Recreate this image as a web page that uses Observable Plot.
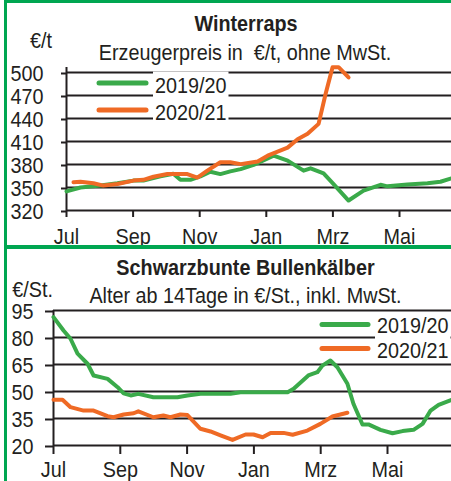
<!DOCTYPE html>
<html><head><meta charset="utf-8">
<script src="https://cdn.jsdelivr.net/npm/d3@7"></script>
<script src="https://cdn.jsdelivr.net/npm/@observablehq/plot@0.6"></script>
<style>
body{margin:0;background:#fff}
#root{position:relative;width:451px;height:481px;overflow:hidden;background:#fff}
.panel{position:absolute;left:0;width:451px;overflow:hidden}
.bar{position:absolute;background:#00a651}
svg.overlay{position:absolute;left:0;top:0}
</style></head><body><div id="root"></div>
<script>
// ---------- data ----------
const monthLabels = ["Jul", "Sep", "Nov", "Jan", "Mrz", "Mai"];
const monthTicks = [0, 2, 4, 6, 8, 10];           // months since July
const seriesNames = ["2019/20", "2020/21"];

// Winterraps, Erzeugerpreis €/t
const rapsTicks = [320, 350, 380, 410, 440, 470, 500];
const raps1920Month = [0, 0.42, 1.02, 1.53, 2.01, 2.31, 2.82, 3.21, 3.42, 3.72, 4.02, 4.32, 4.62, 4.92, 5.23, 5.62, 6.22, 6.64, 7.12, 7.33, 7.72, 8.02, 8.47, 8.92, 9.43, 9.64, 10.24, 10.84, 11.23, 11.56];
const raps1920Value = [345, 350, 352.5, 355.5, 359, 359, 364.5, 368, 360, 360, 364.5, 370.5, 367.5, 371, 374, 379.5, 391.5, 385, 372, 375, 368.5, 354.5, 333, 346, 353.5, 351.5, 354, 355.5, 357.5, 362];
const raps2021Month = [0.21, 0.42, 0.81, 1.11, 1.53, 2.01, 2.31, 2.61, 3.03, 3.63, 3.93, 4.23, 4.62, 4.92, 5.23, 5.74, 6.04, 6.64, 6.94, 7.24, 7.57, 7.78, 7.99, 8.17, 8.47];
const raps2021Value = [357, 357.5, 355.5, 352.5, 354.5, 359, 360, 364, 367.5, 367.5, 363, 372, 383, 383, 380.5, 384, 391.5, 402, 413, 420, 433, 472, 507, 507, 493.5];

// Schwarzbunte Bullenkälber, €/St.
const kalbTicks = [20, 35, 50, 65, 80, 95];
const kalb1920Month = [0, 0.30, 0.51, 0.72, 1.02, 1.20, 1.62, 1.92, 2.10, 2.31, 2.54, 2.99, 3.71, 4.01, 4.40, 5.30, 5.60, 7.01, 7.19, 7.63, 7.90, 8.05, 8.29, 8.50, 8.80, 8.98, 9.25, 9.43, 9.79, 10.15, 10.45, 10.78, 11.05, 11.29, 11.53, 11.92];
const kalb1920Value = [91.3, 83.9, 79.3, 71, 65.4, 58.9, 57, 52.4, 49, 47.8, 48.7, 46.8, 46.8, 47.8, 48.7, 48.7, 49.6, 49.6, 51.5, 58.9, 60.7, 64.4, 67.2, 63.5, 54.3, 43.2, 31.7, 31.7, 28.7, 26.8, 28, 28.7, 32, 39.4, 42.6, 45.4];
const kalb2021Month = [0, 0.27, 0.51, 0.90, 1.20, 1.62, 1.80, 2.10, 2.40, 2.54, 2.99, 3.29, 3.50, 3.80, 4.01, 4.40, 4.70, 5.00, 5.36, 5.75, 5.99, 6.26, 6.50, 6.89, 7.16, 7.60, 7.99, 8.35, 8.80];
const kalb2021Value = [45.4, 45.4, 41.3, 39.4, 39.4, 36.3, 35.7, 37.2, 37.9, 39, 35.7, 36.7, 35.7, 37.2, 36.9, 29.3, 27.8, 25.6, 23.1, 26.1, 26.1, 24.6, 27, 27, 26, 28.3, 32, 36.1, 38.2];

// ---------- style ----------
const FONT = '"Liberation Sans",Arial,Helvetica,sans-serif';
const FS = 22;            // font size
const SX = 0.9;           // horizontal condensing of the type
const INK = "#231f20";
const GREEN = "#3aaa4a";
const ORANGE = "#ef6a25";

function rows(months, values, s) { return months.map((m, i) => ({m, v: values[i], s})); }

// condense every text of an svg horizontally around its anchor point
function condense(svgNode) {
  svgNode.querySelectorAll("text").forEach(t => {
    const tr = t.getAttribute("transform");
    if (tr && tr.includes("translate")) {
      t.setAttribute("transform", tr + ` scale(${SX},1)`);
    } else {
      const x = +(t.getAttribute("x") || 0), y = +(t.getAttribute("y") || 0);
      t.setAttribute("transform", `translate(${x},${y}) scale(${SX},1) translate(${-x},${-y})`);
    }
  });
}

function chart(o) {
  const svg = Plot.plot({
    width: 451, height: o.height,
    marginLeft: o.marginLeft, marginRight: 0, marginTop: o.marginTop, marginBottom: o.marginBottom,
    style: `font-family:${FONT};font-size:${FS}px;color:${INK};background:white;`,
    x: {domain: [0, o.xEnd]},
    y: {domain: o.yDomain, insetTop: o.insetTop || 0},
    color: {domain: seriesNames, range: [GREEN, ORANGE]},
    marks: [
      Plot.ruleY(o.yTicks, {stroke: INK, strokeWidth: 2}),
      Plot.ruleX([0], {stroke: INK, strokeWidth: 2}),
      Plot.axisY({ticks: o.yTicks, tickSize: o.yTickSize, tickPadding: o.yPad, tickFormat: d => String(d), label: null, stroke: INK, strokeWidth: 2, dy: 1, fill: INK}),
      Plot.axisX({ticks: monthTicks, tickSize: o.xTickSize, tickPadding: o.xPad, tickFormat: d => monthLabels[monthTicks.indexOf(d)], label: null, stroke: INK, strokeWidth: 2, fill: INK}),
      Plot.line(o.data, {x: "m", y: "v", z: "s", stroke: "s", strokeWidth: 4, strokeLinejoin: "round"})
    ]
  });
  condense(svg);
  return svg;
}

const root = document.getElementById("root");

const p1 = document.createElement("div");
p1.className = "panel"; p1.style.top = "0px"; p1.style.height = "245px";
p1.append(chart({
  height: 245, marginLeft: 66, marginTop: 67, marginBottom: 35, insetTop: 5,
  xEnd: (451 - 66) / 33.3, yDomain: [320, 500], yTicks: rapsTicks, yTickSize: 5, yPad: 18, xTickSize: 7, xPad: 11,
  data: [...rows(raps1920Month, raps1920Value, seriesNames[0]), ...rows(raps2021Month, raps2021Value, seriesNames[1])]
}));
root.append(p1);

const p2 = document.createElement("div");
p2.className = "panel"; p2.style.top = "249px"; p2.style.height = "232px";
p2.append(chart({
  height: 232, marginLeft: 53, marginTop: 61, marginBottom: 36,
  xEnd: (451 - 53) / 33.4, yDomain: [20, 95], yTicks: kalbTicks, yTickSize: 8, yPad: 12, xTickSize: 9, xPad: 7,
  data: [...rows(kalb1920Month, kalb1920Value, seriesNames[0]), ...rows(kalb2021Month, kalb2021Value, seriesNames[1])]
}));
root.append(p2);

// ---------- titles and legends ----------
const ov = d3.select(root).append("svg").attr("class", "overlay")
  .attr("width", 451).attr("height", 481)
  .style("font-family", FONT).attr("fill", INK);

const texts = [
  {t: "Winterraps", x: 246, y: 31, a: "middle", w: "bold"},
  {t: "Erzeugerpreis in  €/t, ohne MwSt.", x: 245, y: 60, a: "middle"},
  {t: "€/t", x: 52, y: 48, a: "end"},
  {t: "Schwarzbunte Bullenkälber", x: 245.5, y: 275, a: "middle", w: "bold"},
  {t: "Alter ab 14Tage in €/St., inkl. MwSt.", x: 245.5, y: 302.5, a: "middle"},
  {t: "€/St.", x: 53, y: 297, a: "end"}
];
for (const d of texts) {
  ov.append("text").attr("transform", `translate(${d.x},${d.y}) scale(${SX},1)`).attr("text-anchor", d.a)
    .attr("font-size", FS).attr("font-weight", d.w || "normal").style("white-space", "pre").text(d.t);
}

function legend(x1, x2, tx, ys, bys) {
  const g = ov.append("g");
  const bg = g.append("rect").attr("fill", "white");
  const tg = g.append("g");
  seriesNames.forEach((name, i) => {
    g.append("line").attr("x1", x1).attr("x2", x2).attr("y1", ys[i]).attr("y2", ys[i])
      .attr("stroke", i ? ORANGE : GREEN).attr("stroke-width", 5).attr("stroke-linecap", "round");
    tg.append("text").attr("transform", `translate(${tx},${bys[i]}) scale(${SX},1)`).attr("font-size", FS).text(name);
  });
  const b = tg.node().getBBox();
  bg.attr("x", b.x - 2).attr("y", b.y - 1).attr("width", b.width + 4).attr("height", b.height + 2);
}
legend(99, 146, 155, [83, 110], [92.5, 120]);
legend(322, 368, 377, [324.5, 348.5], [333, 357.5]);

// ---------- green frame ----------
for (const [l, t, w, h] of [[4, 0, 447, 3], [4, 0, 3, 481], [4, 245, 447, 4]]) {
  const d = document.createElement("div");
  d.className = "bar";
  Object.assign(d.style, {left: l + "px", top: t + "px", width: w + "px", height: h + "px"});
  root.append(d);
}
</script></body></html>
